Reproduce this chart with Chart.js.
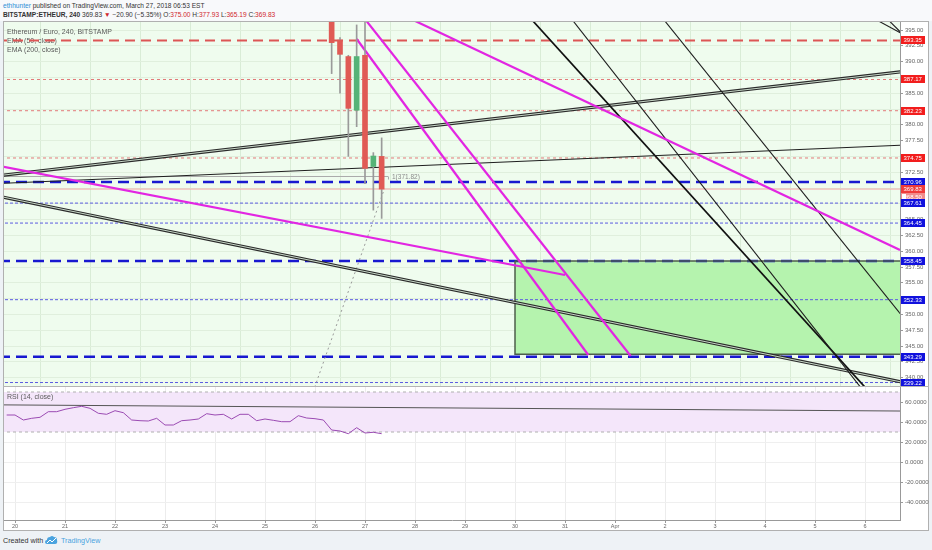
<!DOCTYPE html>
<html><head><meta charset="utf-8">
<script src="https://cdn.jsdelivr.net/npm/chart.js@4.4.1/dist/chart.umd.min.js"></script>
<style>
html,body{margin:0;padding:0;}
body{width:932px;height:550px;overflow:hidden;background:#eef2f6;position:relative;font-family:"Liberation Sans",Arial,sans-serif;}
#hdr{position:absolute;left:0;top:0;width:932px;height:21px;background:#f8f9fb;}
.t{position:absolute;white-space:nowrap;font-size:6.6px;color:#333;line-height:1;}
.r{color:#d0282e;}
#frame{position:absolute;left:3px;top:21px;width:926px;height:510px;box-sizing:border-box;border:1px solid #b0b0b0;background:#fff;}
#sep{position:absolute;left:3px;top:386px;width:926px;height:1px;background:#b4b4b4;}
#c1wrap{position:absolute;left:0;top:22px;width:932px;height:364px;}
#c2wrap{position:absolute;left:0;top:387px;width:932px;height:143px;}
canvas{display:block;}
</style></head>
<body>
<div id="hdr"></div>
<div class="t" style="left:3px;top:3px;"><span style="color:#2a8fd6">ethhunter</span> published on TradingView.com, March 27, 2018 06:53 EST</div>
<div class="t" style="left:3px;top:12px;"><b>BITSTAMP:ETHEUR, 240</b> 369.83 <span class="r">▼</span> −20.90 (−5.35%) O:<span class="r">375.00</span> H:<span class="r">377.93</span> L:<span class="r">365.19</span> C:<span class="r">369.83</span></div>
<div id="frame"></div>
<div id="c1wrap"><canvas id="c1" width="932" height="364"></canvas></div>
<div id="c2wrap"><canvas id="c2" width="932" height="143"></canvas></div>
<div id="sep"></div>
<div class="t" style="left:3px;top:537px;color:#333;font-size:7.2px;">Created with</div>
<svg style="position:absolute;left:45px;top:535px" width="13" height="10" viewBox="0 0 13 10"><path d="M2 9 Q0 9 0 7 Q0 5 2 5 Q2 2 5 2 Q7 0 9 2 Q12 2 12 5 Q13 9 10 9 Z" fill="#4aa3df"/><path d="M2 8 L5 5 L7 7 L11 3" stroke="#fff" stroke-width="1" fill="none"/></svg>
<div class="t" style="left:61px;top:537px;color:#4aa3df;font-size:7.2px;">TradingView</div>
<script>
// ---------- data ----------
const dayLabels = ['20','21','22','23','24','25','26','27','28','29','30','31','Apr','2','3','4','5','6'];
const priceTicks = [340,342.5,345,347.5,350,352.5,355,357.5,360,362.5,365,367.5,370,372.5,375,377.5,380,382.5,385,387.5,390,392.5,395];
const rsiTicks = [60,40,20,0,-20,-40];

// 4h candles, x in days from Mar 20 00:00
const candleDays  = [6.333, 6.5, 6.667, 6.833, 7.0, 7.167, 7.333];
const candleOpen  = [397.5, 393.4, 390.8, 382.3, 391.0, 373.4, 375.00];
const candleHigh  = [399.0, 393.8, 391.0, 395.8, 396.8, 375.6, 377.93];
const candleLow   = [388.1, 385.0, 375.0, 379.7, 370.7, 366.5, 365.19];
const candleClose = [393.0, 391.15, 382.6, 390.8, 373.1, 375.06, 369.83];

const rsiValues = [47,47,42,43.7,44.7,50.3,50.3,52.7,54.3,55.7,53.7,48.7,47.7,51.3,49.3,42,41.3,41,43.7,37,37,41.3,42,43,48.3,47,47.7,43,47.7,47.7,41.3,43,41.7,40.3,40.3,46.3,44,43.3,42,32,31,28.3,34.3,29,29.7,28.3];
const rsiFirstBar = -1;

const redThickLevels = [393.35];
const redThinLevels  = [387.17, 382.23, 374.75];
const blueThickLevels = [370.96, 358.45, 343.29];
const blueThinLevels  = [367.61, 364.45, 352.33, 339.22];
const currentPrice = 369.83;
const pinkLabelPrice = 368.50;
const rangeLevel = 371.82;
const rangeEndDay = 7.46;

const rectTop = 358.45, rectBottom = 343.7, rectStartDay = 10.0, rectEndDay = 18.5;

const magentaLines = [
  [[-0.5,373.76],[11.0,356.23]],
  [[6.834,393.58],[11.466,343.58]],
  [[6.8,398.73],[12.314,343.42]],
  [[7.7,397.56],[17.7,360.19]]
];
const blackThinLines = [
  [[-0.5,370.65],[17.9,376.83]],
  [[10.9,399.08],[16.94,338.18]],
  [[12.7,399.35],[17.9,348.21]],
  [[17.26,396.47],[17.75,394.35]],
  [[17.48,396.49],[17.75,394.35]]
];
const blackBoldLines = [
  [[10.1,398.68],[17.02,338.31]]
];
const blackDoubleLines = [
  [[-0.5,371.80],[17.9,388.54]],
  [[-0.5,368.99],[17.9,339.02]]
];
const projectionLine = [[5.96,337.72],[7.38,369.68]];
const rsiTrendLine = [[-0.5,57.2],[17.9,50.9]];
const rsiBand = [70,30];

const paneLegend = ['Ethereum / Euro, 240, BITSTAMP','EMA (50, close)','EMA (200, close)'];
const rsiLegend = 'RSI (14, close)';

// ---------- helpers ----------
const X_MIN=-0.22, X_MAX=17.7, P_MIN=338.671, P_MAX=396.266, R_MIN=-58, R_MAX=75;
const FONT='"Liberation Sans", Arial, sans-serif';
const pts = a => a.map(p=>({x:p[0],y:p[1]}));
const hl = (v,a,b) => [{x:a,y:v},{x:b,y:v}];
const L = (data, color, width, extra) => Object.assign({type:'line', data, borderColor:color, borderWidth:width, pointRadius:0, fill:false, tension:0, clip:0}, extra||{});
const noPadY = w => s => {s.width=w; s.paddingTop=0; s.paddingBottom=0;};
const noPadX = h => s => {s.height=h; s.paddingLeft=0; s.paddingRight=0;};

const ds1 = [];
ds1.push(L(hl(rectTop,rectStartDay,rectEndDay),'rgba(0,0,0,0)',0,{fill:{value:rectBottom},backgroundColor:'#b5f3ae',order:100}));
redThinLevels.forEach(v=>ds1.push(L(hl(v,-1,19),'#e27a7a',1,{borderDash:[3,3],order:90})));
blueThinLevels.forEach(v=>ds1.push(L(hl(v,-1,19),'#5b5be0',1,{borderDash:[3,2],order:90})));
ds1.push(L(hl(currentPrice,-1,19),'#f2a8a8',1,{order:89}));
ds1.push(L(hl(rangeLevel,-1,rangeEndDay),'#aaaaaa',1,{order:89}));
redThickLevels.forEach(v=>ds1.push(L(hl(v,-1,19),'#dd5555',2,{borderDash:[10,6],order:88})));
blueThickLevels.forEach(v=>ds1.push(L(hl(v,-1,19),'#1818d0',2.5,{borderDash:[11,6],order:88})));
ds1.push(L([{x:rectStartDay,y:rectTop},{x:rectEndDay,y:rectTop},{x:rectEndDay,y:rectBottom},{x:rectStartDay,y:rectBottom},{x:rectStartDay,y:rectTop}],'#4d5e4b',1.5,{order:80}));
ds1.push(L(pts(projectionLine),'#9a9a9a',1,{borderDash:[2,3],order:70}));
blackDoubleLines.forEach(l=>{ds1.push(L(pts(l),'#2a2a2a',3.2,{order:60}));ds1.push(L(pts(l),'#c8d8c8',1,{order:59}));});
blackThinLines.forEach(l=>ds1.push(L(pts(l),'#1e1e1e',1.1,{order:50})));
blackBoldLines.forEach(l=>ds1.push(L(pts(l),'#111',1.7,{order:50})));
magentaLines.forEach(l=>ds1.push(L(pts(l),'#e226e2',2.2,{order:40})));
const upC='#55b377', dnC='#e05a55';
ds1.push({type:'bar', grouped:false, clip:0, order:11, barThickness:1, backgroundColor:'#9a9a9a',
  data: candleDays.map((d,i)=>({x:d,y:[candleLow[i],candleHigh[i]]}))});
ds1.push({type:'bar', grouped:false, clip:0, order:10, barThickness:5, borderWidth:0,
  backgroundColor: candleDays.map((d,i)=>candleClose[i]>=candleOpen[i]?upC:dnC),
  data: candleDays.map((d,i)=>({x:d,y:[candleOpen[i],candleClose[i]]}))});

const bg1 = {id:'bg1',
  beforeDraw(c){const a=c.chartArea,x=c.ctx;x.save();x.fillStyle='#effcee';x.fillRect(a.left,a.top,a.right-a.left,a.bottom-a.top);x.restore();},
  beforeDatasetsDraw(c){const x=c.ctx;x.save();x.fillStyle='#5a5a5a';x.font='7px '+FONT;x.textBaseline='middle';
    paneLegend.forEach((t,i)=>x.fillText(t,7,10.5+i*9));x.restore();},
  afterDatasetsDraw(c){const x=c.ctx,xs=c.scales.x,ys=c.scales.y;x.save();x.fillStyle='#8a8a8a';x.font='6.5px '+FONT;x.textBaseline='middle';
    x.fillText('1('+rangeLevel.toFixed(2)+')',xs.getPixelForValue(rangeEndDay)+4,ys.getPixelForValue(rangeLevel)+0.5);
    x.strokeStyle='#aaa';x.lineWidth=1;x.beginPath();const px=Math.round(xs.getPixelForValue(rangeEndDay))+0.5;x.moveTo(px,ys.getPixelForValue(rangeLevel));x.lineTo(px,ys.getPixelForValue(rangeLevel)+3);x.stroke();x.restore();},
  afterDraw(c){const x=c.ctx,ys=c.scales.y;x.save();x.font='6px '+FONT;x.textBaseline='middle';
    const box=(v,bg,fg,txt)=>{const py=Math.round(ys.getPixelForValue(v));x.fillStyle=bg;x.fillRect(901,py-4,24,8);x.fillStyle=fg;x.fillText(txt||v.toFixed(2),903.5,py+0.5);};
    box(pinkLabelPrice,'#f28c8c','#fff');
    x.fillStyle='#fff';x.fillRect(902,Math.round(ys.getPixelForValue(pinkLabelPrice))-3,4,5);
    redThickLevels.concat(redThinLevels).forEach(v=>box(v,'#f21d1d','#fff'));
    blueThickLevels.concat(blueThinLevels).forEach(v=>box(v,'#1111dd','#fff'));
    box(currentPrice,'#ef3b3b','#fff');
    x.restore();}
};

new Chart(document.getElementById('c1'),{
  type:'line', data:{datasets:ds1}, plugins:[bg1],
  options:{responsive:false,animation:false,events:[],
    layout:{padding:{left:4,right:0,top:0,bottom:0}},
    plugins:{legend:{display:false},tooltip:{enabled:false}},
    scales:{
      x:{type:'linear',min:X_MIN,max:X_MAX,offset:false,
        afterBuildTicks:s=>{s.ticks=dayLabels.map((_,i)=>({value:i}));},
        ticks:{display:false},grid:{color:'#d9ecd6',drawTicks:false},border:{display:false},
        afterFit:noPadX(0)},
      y:{type:'linear',position:'right',min:P_MIN,max:P_MAX,
        afterBuildTicks:s=>{s.ticks=priceTicks.map(v=>({value:v}));},
        ticks:{autoSkip:false,callback:v=>Number(v).toFixed(2),font:{size:6,family:FONT},color:'#666',padding:2},
        grid:{color:'#e0efdd',tickLength:3,tickColor:'#999'},border:{color:'#999'},
        afterFit:noPadY(32)}
    }}
});

// ---------- RSI pane ----------
const ds2 = [];
ds2.push(L(hl(rsiBand[0],-1,19),'#b0b0b0',1,{borderDash:[3,3],fill:{value:rsiBand[1]},backgroundColor:'#f4e6fa',order:100}));
ds2.push(L(hl(rsiBand[1],-1,19),'#b0b0b0',1,{borderDash:[3,3],order:99}));
ds2.push(L(pts(rsiTrendLine),'#555',1,{order:20}));
ds2.push(L(rsiValues.map((v,i)=>({x:(rsiFirstBar+i)/6,y:v})),'#9b4bb3',1,{order:10}));

const bg2={id:'bg2',
  afterDatasetsDraw(c){const x=c.ctx;x.save();x.fillStyle='#5a5a5a';x.font='7px '+FONT;x.textBaseline='middle';x.fillText(rsiLegend,7,10);x.restore();}
};
new Chart(document.getElementById('c2'),{
  type:'line', data:{datasets:ds2}, plugins:[bg2],
  options:{responsive:false,animation:false,events:[],
    layout:{padding:{left:4,right:0,top:0,bottom:0}},
    plugins:{legend:{display:false},tooltip:{enabled:false}},
    scales:{
      x:{type:'linear',min:X_MIN,max:X_MAX,offset:false,
        afterBuildTicks:s=>{s.ticks=dayLabels.map((_,i)=>({value:i}));},
        ticks:{autoSkip:false,maxRotation:0,callback:v=>dayLabels[v],font:{size:5.5,family:FONT},color:'#666',padding:0},
        grid:{color:'#ececec',tickLength:3,tickColor:'#999'},border:{color:'#999'},
        afterFit:noPadX(10)},
      y:{type:'linear',position:'right',min:R_MIN,max:R_MAX,
        afterBuildTicks:s=>{s.ticks=rsiTicks.map(v=>({value:v}));},
        ticks:{autoSkip:false,callback:v=>Number(v).toFixed(4),font:{size:6,family:FONT},color:'#666',padding:2},
        grid:{color:'#efefef',tickLength:3,tickColor:'#999'},border:{color:'#999'},
        afterFit:noPadY(32)}
    }}
});
</script>
</body></html>
